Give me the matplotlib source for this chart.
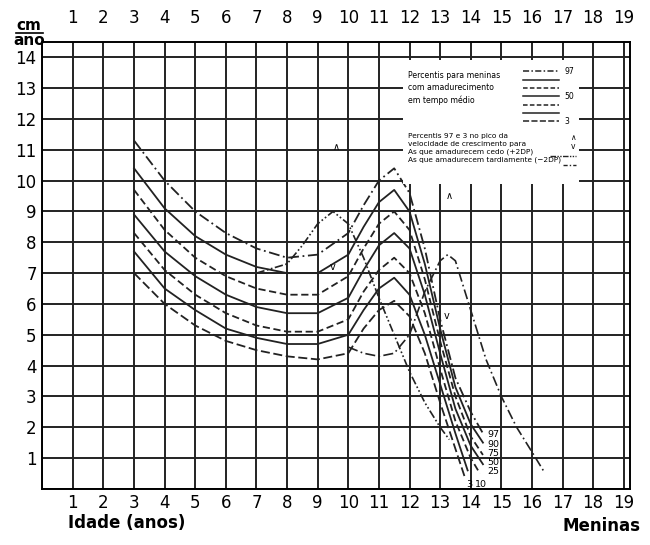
import matplotlib
matplotlib.use("Agg")
import matplotlib.pyplot as plt
from matplotlib.patches import Rectangle

ages_main = [3, 4, 5, 6, 7, 8, 9, 10, 10.5, 11, 11.5, 12, 12.5, 13, 13.5, 14]
p97 = [11.3, 10.0, 9.0, 8.3, 7.8, 7.5, 7.6, 8.3, 9.2, 10.0, 10.4, 9.6, 7.8, 5.5, 3.6, 2.5, 1.8]
p90 = [10.4, 9.1, 8.2, 7.6, 7.2, 7.0, 7.0, 7.6, 8.5, 9.3, 9.7, 9.0, 7.3, 5.2, 3.3, 2.1, 1.5]
p75 = [9.7, 8.4, 7.5, 6.9, 6.5, 6.3, 6.3, 6.9, 7.8, 8.6, 9.0, 8.4, 6.8, 4.8, 3.0, 1.7, 1.1]
p50 = [8.9, 7.7, 6.9, 6.3, 5.9, 5.7, 5.7, 6.2, 7.1, 7.9, 8.3, 7.8, 6.3, 4.4, 2.6, 1.4, 0.8]
p25 = [8.3, 7.1, 6.3, 5.7, 5.3, 5.1, 5.1, 5.5, 6.4, 7.1, 7.5, 7.0, 5.7, 3.9, 2.2, 1.0, 0.5]
p10 = [7.7, 6.5, 5.8, 5.2, 4.9, 4.7, 4.7, 5.0, 5.8, 6.5, 6.85, 6.3, 5.0, 3.4, 1.8, 0.6]
p3 = [7.0, 6.0, 5.3, 4.8, 4.5, 4.3, 4.2, 4.4, 5.2, 5.8, 6.1, 5.6, 4.4, 2.8, 1.3, 0.4]
end_ages = {"97": 14.4, "90": 14.4, "75": 14.4, "50": 14.4, "25": 14.3, "10": 13.9, "3": 13.8}

early_ages = [7, 8, 8.5, 9, 9.5, 10, 10.5, 11, 11.5, 12, 12.5, 13, 13.3]
early_vals = [7.0, 7.3, 7.9, 8.6, 9.0, 8.6, 7.5, 6.2, 5.0, 3.8, 2.8, 2.0, 1.6]
late_ages = [10, 10.5, 11, 11.5, 12, 12.5, 13, 13.25, 13.5, 14, 14.5, 15, 15.5, 16, 16.4]
late_vals = [4.6, 4.4, 4.3, 4.4, 5.0, 6.4, 7.4, 7.6, 7.4, 5.8, 4.2, 3.0, 2.0, 1.2, 0.55]

peak_marks_x = [9.6, 9.5, 13.3, 13.2]
peak_marks_y = [11.1, 7.2, 9.5, 5.6]
peak_marks_t = ["\u2227", "v", "\u2227", "v"]

x_ticks = list(range(1, 20))
y_ticks = list(range(1, 15))

fig = plt.figure(figsize=(6.5, 5.45), dpi=100)
ax = fig.add_axes([0.065, 0.103, 0.904, 0.82])
ax.set_xlim(0, 19.2)
ax.set_ylim(0, 14.5)
for x in range(0, 20):
    ax.axvline(x, color="#222", lw=1.4, zorder=1)
for y in range(0, 15):
    ax.axhline(y, color="#222", lw=1.4, zorder=1)
ax.set_xticks(x_ticks)
ax.set_yticks(y_ticks)
ax.tick_params(length=0, labelsize=12, pad=4)
sec = ax.secondary_xaxis("top")
sec.set_xticks(x_ticks)
sec.tick_params(length=0, labelsize=12, pad=11)
for s in ax.spines.values():
    s.set_linewidth(1.4)
sec.spines["top"].set_visible(False)

styles = [("97", p97, (0, (6, 2, 1, 2))), ("90", p90, "-"), ("75", p75, (0, (4, 2))),
          ("50", p50, "-"), ("25", p25, (0, (4, 2))), ("10", p10, "-"), ("3", p3, (0, (5, 2)))]
for name, vals, ls in styles:
    xs = ages_main[:len(vals) - 1] + [end_ages[name]]
    ax.plot(xs, vals, color="#222", lw=1.3, ls=ls, zorder=3)

ax.plot(early_ages, early_vals, color="#222", lw=1.2, ls=(0, (5, 1.5, 1, 1.5, 1, 1.5)), zorder=3)
ax.plot(late_ages, late_vals, color="#222", lw=1.2, ls=(0, (6, 2, 1, 2)), zorder=3)

for x, y, t in zip(peak_marks_x, peak_marks_y, peak_marks_t):
    ax.text(x, y, t, fontsize=7, ha="center", va="center", zorder=4)

lab_pos = [("97", 14.55, 1.75), ("90", 14.55, 1.45), ("75", 14.55, 1.15), ("50", 14.55, 0.85),
           ("25", 14.55, 0.55), ("3", 13.85, 0.15), ("10", 14.15, 0.15)]
for t, x, y in lab_pos:
    ax.text(x, y, t, fontsize=6.8, ha="left", va="center", zorder=4)

# legend box
ax.add_patch(Rectangle((11.8, 9.9), 5.75, 4.0, facecolor="white", edgecolor="none", zorder=5))
lf = 5.6
ax.text(11.95, 13.55, "Percentis para meninas\ncom amadurecimento\nem tempo médio", fontsize=lf,
        va="top", linespacing=1.4, zorder=6)
leg_styles = [(0, (4, 1.5, 1, 1.5)), "-", (0, (3, 1.5)), "-", (0, (3, 1.5)), "-", (0, (4, 1.5))]
for i, ls in enumerate(leg_styles):
    yy = 13.55 - i * 0.27
    ax.plot([15.7, 16.9], [yy, yy], color="#222", lw=1.1, ls=ls, zorder=6)
ax.text(17.05, 13.55, "97", fontsize=lf, va="center", zorder=6)
ax.text(17.05, 13.55 - 3 * 0.27, "50", fontsize=lf, va="center", zorder=6)
ax.text(17.05, 13.55 - 6 * 0.27, "3", fontsize=lf, va="center", zorder=6)
ax.text(11.95, 11.55, "Percentis 97 e 3 no pico da\nvelocidade de crescimento para\nAs que amadurecem cedo (+2DP)\nAs que amadurecem tardiamente (\u22122DP)",
        fontsize=5.3, va="top", linespacing=1.35, zorder=6)
ax.text(17.35, 11.4, "\u2227", fontsize=5.5, ha="center", va="center", zorder=6)
ax.text(17.35, 11.1, "v", fontsize=5.5, ha="center", va="center", zorder=6)
ax.plot([16.6, 17.45], [10.8, 10.8], color="#222", lw=1.0, ls=(0, (4, 1, 1, 1, 1, 1)), zorder=6)
ax.plot([17.0, 17.45], [10.5, 10.5], color="#222", lw=1.0, ls=(0, (3, 1.5, 1, 1.5)), zorder=6)

fig.text(0.045, 0.953, "cm", fontsize=11, fontweight="bold", ha="center", va="center")
fig.add_artist(plt.Line2D([0.024, 0.066], [0.94, 0.94], color="black", lw=1.2))
fig.text(0.045, 0.925, "ano", fontsize=11, fontweight="bold", ha="center", va="center")
fig.text(0.105, 0.04, "Idade (anos)", fontsize=12, fontweight="bold", ha="left", va="center")
fig.text(0.985, 0.035, "Meninas", fontsize=12, fontweight="bold", ha="right", va="center")

fig.savefig("out.png", dpi=100, facecolor="white")
